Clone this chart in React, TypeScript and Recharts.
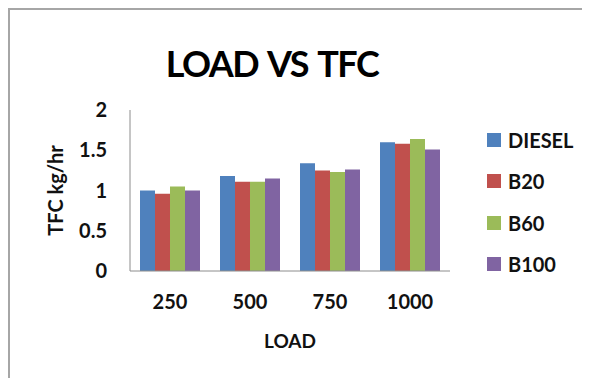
import { BarChart, Bar, XAxis, YAxis, Label } from "recharts";

const loads = ["250", "500", "750", "1000"];
const diesel = [1.0, 1.18, 1.34, 1.6];
const b20 = [0.96, 1.11, 1.25, 1.58];
const b60 = [1.05, 1.11, 1.23, 1.64];
const b100 = [1.0, 1.15, 1.26, 1.51];
const yTicks = [0, 0.5, 1, 1.5, 2];

const series = [
  { key: "DIESEL", values: diesel, color: "#4F81BD" },
  { key: "B20", values: b20, color: "#C0504D" },
  { key: "B60", values: b60, color: "#9BBB59" },
  { key: "B100", values: b100, color: "#8064A2" },
];

const data = loads.map((load, i) => {
  const row: Record<string, string | number> = { load };
  series.forEach((s) => {
    row[s.key] = s.values[i];
  });
  return row;
});

const FONT = "Lato, 'Open Sans', sans-serif";
const AXIS = "#8c8c8c";

function YTitle(props: any) {
  const vb = props.viewBox || {};
  const x = vb.x + 45;
  const y = vb.y + vb.height / 2;
  return (
    <text
      x={x}
      y={y}
      transform={`rotate(-90 ${x} ${y})`}
      textAnchor="middle"
      dominantBaseline="central"
      fontFamily={FONT}
      fontWeight={700}
      fontSize={20}
      fill="#111"
    >
      TFC kg/hr
    </text>
  );
}

function XTitle(props: any) {
  const vb = props.viewBox || {};
  return (
    <text
      x={vb.x + vb.width / 2}
      y={vb.y + 69}
      textAnchor="middle"
      dominantBaseline="central"
      fontFamily={FONT}
      fontWeight={700}
      fontSize={19}
      fill="#111"
    >
      LOAD
    </text>
  );
}

export default function App() {
  return (
    <div
      style={{
        position: "relative",
        width: 580,
        height: 368,
        borderTop: "2px solid #a6a6a6",
        borderLeft: "2px solid #a6a6a6",
        background: "#fff",
        fontFamily: FONT,
        overflow: "hidden",
      }}
    >
      <div
        style={{
          position: "absolute",
          left: 0,
          top: 32,
          width: 524,
          lineHeight: "42px",
          textAlign: "center",
          fontSize: 36,
          fontWeight: 700,
          letterSpacing: -1.5,
          wordSpacing: 3,
          color: "#000",
        }}
      >
        LOAD VS TFC
      </div>
      <BarChart
        width={580}
        height={368}
        data={data}
        margin={{ top: 100, right: 140, left: 0, bottom: 47 }}
        barCategoryGap="12.5%"
        barGap={0}
      >
        <XAxis
          dataKey="load"
          height={60}
          stroke={AXIS}
          tickLine={false}
          tickSize={6}
          tickMargin={18}
          tick={{ fontSize: 20, fontWeight: 700, fill: "#111", fontFamily: FONT }}
        >
          <Label content={XTitle} />
        </XAxis>
        <YAxis
          width={120}
          domain={[0, 2]}
          ticks={yTicks}
          stroke={AXIS}
          tickLine={false}
          tickSize={6}
          tickMargin={17}
          tick={{ fontSize: 20, fontWeight: 700, fill: "#111", fontFamily: FONT }}
        >
          <Label content={YTitle} />
        </YAxis>
        {series.map((s) => (
          <Bar key={s.key} dataKey={s.key} fill={s.color} isAnimationActive={false} />
        ))}
      </BarChart>
      <div style={{ position: "absolute", left: 477, top: 109 }}>
        {series.map((s) => (
          <div
            key={s.key}
            style={{ height: 41.5, display: "flex", alignItems: "center" }}
          >
            <span
              style={{ width: 14, height: 14, background: s.color, display: "inline-block", marginRight: 7 }}
            />
            <span style={{ fontSize: 20, fontWeight: 700, color: "#111" }}>{s.key}</span>
          </div>
        ))}
      </div>
    </div>
  );
}
